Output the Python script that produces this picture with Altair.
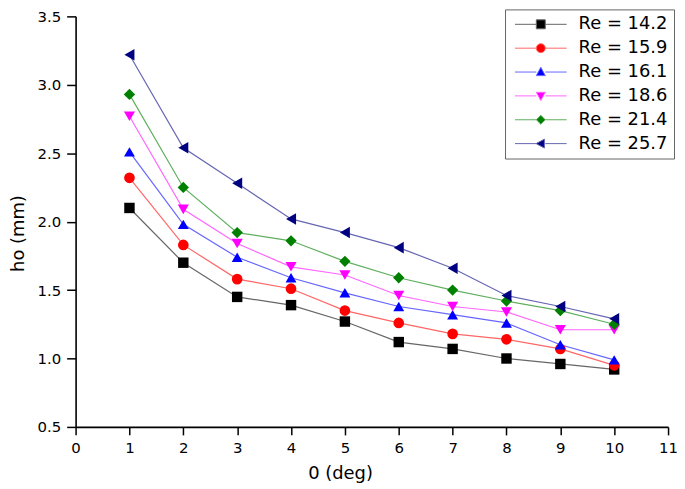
import altair as alt
import pandas as pd

angles = [1, 2, 3, 4, 5, 6, 7, 8, 9, 10]
series_labels = ["Re = 14.2", "Re = 15.9", "Re = 16.1", "Re = 18.6", "Re = 21.4", "Re = 25.7"]
re_14_2 = [2.10, 1.70, 1.45, 1.39, 1.27, 1.12, 1.07, 1.00, 0.96, 0.92]
re_15_9 = [2.32, 1.83, 1.58, 1.51, 1.35, 1.26, 1.18, 1.14, 1.07, 0.95]
re_16_1 = [2.51, 1.98, 1.74, 1.59, 1.48, 1.38, 1.32, 1.26, 1.10, 0.99]
re_18_6 = [2.77, 2.09, 1.84, 1.67, 1.61, 1.46, 1.38, 1.34, 1.21, 1.21]
re_21_4 = [2.93, 2.25, 1.92, 1.86, 1.71, 1.59, 1.50, 1.42, 1.35, 1.25]
re_25_7 = [3.22, 2.54, 2.28, 2.02, 1.92, 1.81, 1.66, 1.46, 1.38, 1.29]

colors = ["#000000", "#FF0000", "#0000FF", "#FF00FF", "#008000", "#000080"]
line_colors = ["#666666", "#FF6666", "#6666FF", "#FF66FF", "#5FAF5F", "#6666B3"]
shapes = ["square", "circle", "triangle-up", "triangle-down", "diamond", "triangle-left"]
sizes = [110, 135, 190, 190, 190, 190]

all_series = [re_14_2, re_15_9, re_16_1, re_18_6, re_21_4, re_25_7]
rows = []
for lab, vals in zip(series_labels, all_series):
    for a, v in zip(angles, vals):
        rows.append({"angle": a, "ho": v, "Re": lab})
df = pd.DataFrame(rows)

# legend symbols: line with marker in the middle (path units, 1 unit = 5 px at size 100)
cx, h, x0, x1 = 4.2, 0.9, -1.0, 9.4
seg = f"M{x0},0H{cx-h:.2f}M{cx+h:.2f},0H{x1}"
legend_paths = [
    seg + f"M{cx-h:.2f},{-h}H{cx+h:.2f}V{h}H{cx-h:.2f}Z",
    seg + f"M{cx-h:.2f},0A{h},{h} 0 1,1 {cx+h:.2f},0A{h},{h} 0 1,1 {cx-h:.2f},0Z",
    seg + f"M{cx:.2f},{-1.05*h:.2f}L{cx+h:.2f},{0.8*h:.2f}L{cx-h:.2f},{0.8*h:.2f}Z",
    seg + f"M{cx:.2f},{1.05*h:.2f}L{cx+h:.2f},{-0.8*h:.2f}L{cx-h:.2f},{-0.8*h:.2f}Z",
    seg + f"M{cx:.2f},{-h}L{cx+h:.2f},0L{cx:.2f},{h}L{cx-h:.2f},0Z",
    seg + f"M{cx-1.05*h:.2f},0L{cx+0.8*h:.2f},{-h}L{cx+0.8*h:.2f},{h}Z",
]

FONT = "DejaVu Sans"

x_enc = alt.X(
    "angle:Q",
    scale=alt.Scale(domain=[0, 11], nice=False, zero=False),
    axis=alt.Axis(
        values=[i * 0.5 for i in range(23)],
        labelExpr="abs(datum.value - round(datum.value)) < 0.01 ? format(datum.value, 'd') : ''",
        tickSize={"condition": {"test": "abs(datum.value - round(datum.value)) < 0.01", "value": 8}, "value": 5},
        title="0 (deg)",
        titleX=266, titleY=38, titleAlign="center", titleBaseline="top",
        titleFont=FONT, titleFontSize=18, titleFontWeight="normal", titleColor="#000000",
        labelFont=FONT, labelFontSize=15, labelColor="#000000", labelPadding=6,
        domainColor="#000000", domainWidth=1.6, tickColor="#000000", tickWidth=1.5,
        grid=False, labelFlush=False, labelOverlap=False,
    ),
)
y_enc = alt.Y(
    "ho:Q",
    scale=alt.Scale(domain=[0.5, 3.5], nice=False, zero=False),
    axis=alt.Axis(
        values=[0.5 + i * 0.25 for i in range(13)],
        labelExpr="abs(datum.value*2 - round(datum.value*2)) < 0.01 ? format(datum.value, '.1f') : ''",
        tickSize={"condition": {"test": "abs(datum.value*2 - round(datum.value*2)) < 0.01", "value": 9}, "value": 5},
        title="ho (mm)",
        titleX=-48, titleY=218, titleAngle=-90, titleAlign="center", titleBaseline="bottom",
        titleFont=FONT, titleFontSize=18, titleFontWeight="normal", titleColor="#000000",
        labelFont=FONT, labelFontSize=15, labelColor="#000000", labelPadding=6,
        domainColor="#000000", domainWidth=1.6, tickColor="#000000", tickWidth=1.5,
        grid=False, labelFlush=False, labelOverlap=False,
    ),
)

lines = alt.Chart(df).mark_line(strokeWidth=1.2).encode(
    x=x_enc, y=y_enc,
    color=alt.Color("Re:N", scale=alt.Scale(domain=series_labels, range=line_colors), legend=None),
    detail="Re:N",
)

points = alt.Chart(df).mark_point(filled=True, opacity=1, strokeWidth=0).encode(
    x="angle:Q", y="ho:Q",
    color=alt.Color("Re:N", scale=alt.Scale(domain=series_labels, range=colors), legend=None),
    shape=alt.Shape("Re:N", scale=alt.Scale(domain=series_labels, range=shapes), legend=None),
    size=alt.Size("Re:N", scale=alt.Scale(domain=series_labels, range=sizes), legend=None),
)

leg = alt.Legend(
    title=None, orient="none", legendX=432, legendY=-7,
    labelFont=FONT, labelFontSize=18, labelColor="#000000", labelOffset=50,
    symbolSize=100, symbolStrokeWidth=1, rowPadding=6, padding=6,
    strokeColor="#666666", fillColor="#FFFFFF",
)

legend_layer = alt.Chart(df).transform_filter("false").mark_point(filled=True, opacity=1).encode(
    color=alt.Color("Re:N", scale=alt.Scale(domain=series_labels, range=colors), legend=leg),
    stroke=alt.Stroke("Re:N", scale=alt.Scale(domain=series_labels, range=line_colors), legend=leg),
    shape=alt.Shape("Re:N", scale=alt.Scale(domain=series_labels, range=legend_paths), legend=leg),
)

chart = alt.layer(lines, points, legend_layer).resolve_scale(
    color="independent", shape="independent", stroke="independent", size="independent"
).properties(
    width=596, height=413,
    autosize=alt.AutoSizeParams(type="none"),
    padding={"left": 68, "top": 7, "right": 9, "bottom": 56},
    background="#FFFFFF",
).configure_view(stroke=None)

chart.save("out.html", embed_options={"renderer": "svg", "actions": False})
